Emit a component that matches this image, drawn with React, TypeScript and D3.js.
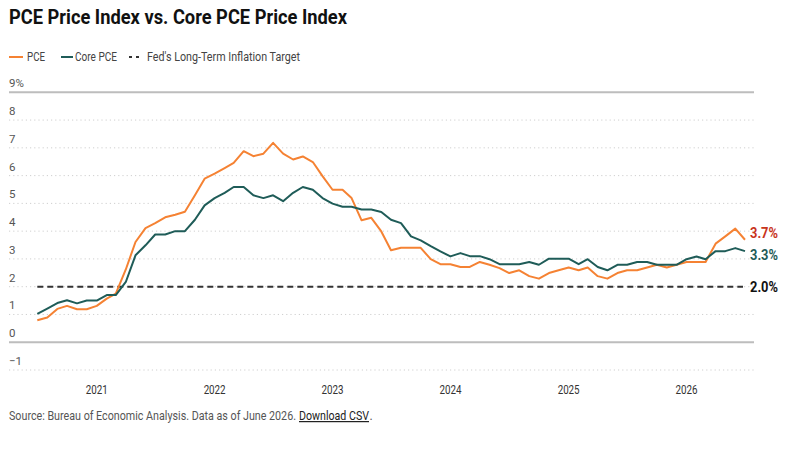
import React from "react";
import * as d3 from "d3";

// monthly readings, Jul 2020 .. Jul 2026 (year-over-year %)
const startMonth = new Date(2020, 6, 1);
const endMonth = new Date(2026, 6, 1);

const pce = [
  0.79, 0.89, 1.2, 1.31, 1.19, 1.19,
  1.31, 1.57, 1.75, 2.62, 3.61, 4.11, 4.29, 4.5, 4.59, 4.7, 5.29, 5.89,
  6.07, 6.27, 6.46, 6.88, 6.7, 6.79, 7.18, 6.79, 6.58, 6.69, 6.49, 5.98,
  5.49, 5.49, 5.19, 4.39, 4.48, 3.99, 3.31, 3.4, 3.4, 3.4, 2.99, 2.81,
  2.81, 2.71, 2.71, 2.89, 2.79, 2.67, 2.49, 2.59, 2.38, 2.29, 2.49, 2.59,
  2.69, 2.59, 2.69, 2.38, 2.29, 2.49, 2.59, 2.59, 2.69, 2.79, 2.69, 2.79,
  2.89, 2.89, 2.89, 3.55, 3.81, 4.09, 3.69,
];

const corePce = [
  1.02, 1.21, 1.41, 1.51, 1.4, 1.5,
  1.5, 1.7, 1.7, 2.17, 3.13, 3.49, 3.88, 3.88, 4.0, 4.0, 4.41, 4.93,
  5.19, 5.38, 5.59, 5.59, 5.29, 5.19, 5.29, 5.08, 5.38, 5.59, 5.49, 5.19,
  4.99, 4.88, 4.88, 4.78, 4.78, 4.69, 4.41, 4.29, 3.81, 3.67, 3.46, 3.27,
  3.09, 3.21, 3.1, 3.1, 2.99, 2.81, 2.81, 2.81, 2.89, 2.79, 3.01, 3.01,
  3.01, 2.81, 2.99, 2.71, 2.59, 2.79, 2.79, 2.89, 2.89, 2.79, 2.79, 2.79,
  2.99, 3.09, 2.99, 3.28, 3.28, 3.39, 3.28,
];

const fedTarget = 2;
const yTicks = [-1, 0, 1, 2, 3, 4, 5, 6, 7, 8, 9];
const yearTicks = [2021, 2022, 2023, 2024, 2025, 2026];

const ORANGE = "#f58233";
const TEAL = "#1f5c58";
const FONT = "Roboto, 'Liberation Sans', sans-serif";

const W = 800;
const H = 453;

// the original uses a condensed face; squeeze Roboto to the same widths
const Cond = ({ w, children, ...rest }: any) => (
  <text textLength={w} lengthAdjust="spacingAndGlyphs" {...rest}>
    {children}
  </text>
);

export default function App() {
  const months = d3.timeMonth.range(startMonth, d3.timeMonth.offset(endMonth, 1));

  const x = d3.scaleTime().domain([startMonth, endMonth]).range([37.3, 745]);
  const y = d3.scaleLinear().domain([-1, 9]).range([370, 92.3]);

  const gridLeft = 9;
  const gridRight = 754;

  const line = d3
    .line<number>()
    .x((_, i) => x(months[i]))
    .y((d) => y(d));

  const fmt = d3.format(".1f");
  const lastPce = pce[pce.length - 1];
  const lastCore = corePce[corePce.length - 1];

  return (
    <svg
      width={W}
      height={H}
      style={{ position: "absolute", left: 0, top: 0, background: "#fff", fontFamily: FONT }}
    >
      <Cond w={338} x={9} y={24} fontSize={19.5} fontWeight="bold" fill="#111">
        PCE Price Index vs. Core PCE Price Index
      </Cond>

      {/* legend */}
      <g fontSize={12.2} fill="#444">
        <line x1={9} x2={23} y1={57} y2={57} stroke={ORANGE} strokeWidth={2} />
        <Cond w={18} x={27} y={61}>PCE</Cond>
        <line x1={61} x2={73} y1={57} y2={57} stroke={TEAL} strokeWidth={2} />
        <Cond w={42} x={75} y={61}>Core PCE</Cond>
        <line x1={129} x2={139} y1={57} y2={57} stroke="#333" strokeWidth={2} strokeDasharray="3,4" />
        <Cond w={153} x={147} y={61}>Fed's Long-Term Inflation Target</Cond>
      </g>

      {/* y grid */}
      {yTicks.map((t) => {
        const solid = t === 0 || t === 9;
        return (
          <g key={t}>
            <line
              x1={gridLeft}
              x2={gridRight}
              y1={y(t)}
              y2={y(t)}
              stroke={solid ? "#bdbdbd" : "#cfcfcf"}
              strokeWidth={solid ? 2 : 1}
              strokeDasharray={solid ? undefined : "1.2,3"}
            />
            <text x={gridLeft} y={y(t) - 5} fontSize={11.5} fill="#555">
              {t === 9 ? "9%" : t < 0 ? `\u2212${Math.abs(t)}` : t}
            </text>
          </g>
        );
      })}

      {/* x labels */}
      {yearTicks.map((yr) => (
        <Cond
          key={yr}
          w={22}
          x={x(new Date(yr, 0, 1))}
          y={394}
          fontSize={12}
          fill="#333"
          textAnchor="middle"
        >
          {yr}
        </Cond>
      ))}

      {/* fed target */}
      <line
        x1={x(startMonth)}
        x2={743}
        y1={y(fedTarget)}
        y2={y(fedTarget)}
        stroke="#333"
        strokeWidth={2}
        strokeDasharray="6,4"
      />

      <path d={line(pce) ?? ""} fill="none" stroke={ORANGE} strokeWidth={2} strokeLinejoin="round" />
      <path d={line(corePce) ?? ""} fill="none" stroke={TEAL} strokeWidth={2} strokeLinejoin="round" />

      {/* end labels */}
      <g fontSize={15} fontWeight="bold">
        <Cond w={28} x={750} y={y(lastPce) - 1.5} fill="#c8341c">{fmt(lastPce)}%</Cond>
        <Cond w={28} x={750} y={y(lastCore) + 9} fill={TEAL}>{fmt(lastCore)}%</Cond>
        <Cond w={28} x={750} y={y(fedTarget) + 5} fill="#111">{fmt(fedTarget)}%</Cond>
      </g>

      <g fontSize={12.2}>
        <Cond w={287} x={9} y={420} fill="#555">
          Source: Bureau of Economic Analysis. Data as of June 2026.
        </Cond>
        <Cond w={70} x={299} y={420} fill="#222" textDecoration="underline">
          Download CSV
        </Cond>
        <text x={369.5} y={420} fill="#555">.</text>
      </g>
    </svg>
  );
}
